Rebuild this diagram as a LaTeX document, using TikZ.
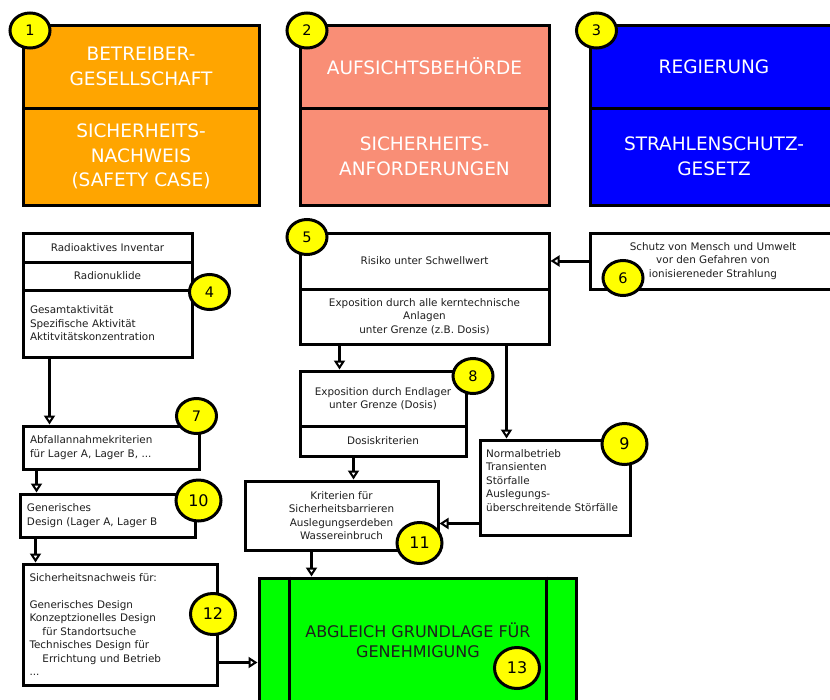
\documentclass[tikz,border=0pt]{standalone}
\usepackage{fontspec}
\setmainfont{DejaVu Sans}
\usetikzlibrary{arrows.meta,shapes.geometric,calc}
\definecolor{orng}{RGB}{255,165,0}
\definecolor{slmn}{RGB}{249,142,118}
\definecolor{blu}{RGB}{0,0,255}
\definecolor{grn}{RGB}{0,255,0}
\definecolor{ylw}{RGB}{255,255,0}
\definecolor{txtc}{RGB}{30,30,30}
\tikzset{
  wh/.style 2 args={minimum width=#1pt, minimum height=#2pt},
  box/.style={draw=black, line width=3pt, rectangle, inner sep=0pt, fill=white,
    text=txtc, font=\fontsize{10.4}{13.5}\selectfont, align=center},
  lbox/.style={box, align=left},
  bigbox/.style={box, text=white, font=\fontsize{18.5}{24.5}\selectfont},
  txt/.style={inner sep=0pt, text=txtc, font=\fontsize{10.4}{13.5}\selectfont, align=left},
  badge/.style={draw=black, ellipse, fill=ylw, line width=3pt, inner sep=0pt,
    minimum width=40pt, minimum height=35pt, text=black, font=\fontsize{14.5}{16}\selectfont},
  bigbadge/.style={badge, minimum width=45pt, minimum height=41pt, font=\fontsize{16}{18}\selectfont},
  conn/.style={line width=3pt, draw=black,
    -{Triangle[length=9pt, width=11pt, fill=white, line width=2pt]}},
}
\begin{document}
\begin{tikzpicture}[x=1pt,y=-1pt]
\useasboundingbox (0,0) rectangle (830,699);
\clip (0,0) rectangle (830,699);

% top row
\node[bigbox, fill=orng, wh={236}{83}] (b1a) at (141,66.5) {BETREIBER-\\GESELLSCHAFT};
\node[bigbox, fill=orng, wh={236}{97}] (b1b) at (141,156.5) {SICHERHEITS-\\NACHWEIS\\(SAFETY CASE)};
\node[bigbox, fill=slmn, wh={249}{83}] (b2a) at (424.5,66.5) {AUFSICHTSBEHÖRDE};
\node[bigbox, fill=slmn, wh={249}{97}] (b2b) at (424.5,156.5) {SICHERHEITS-\\ANFORDERUNGEN};
\node[bigbox, fill=blu, wh={248}{83}] (b3a) at (714,66.5) {REGIERUNG};
\node[bigbox, fill=blu, wh={248}{97}] (b3b) at (714,156.5) {STRAHLENSCHUTZ-\\GESETZ};

% box 4
\node[box, wh={169}{29}] (b4a) at (107.5,247.5) {Radioaktives Inventar};
\node[box, wh={169}{28}] (b4b) at (107.5,276) {Radionuklide};
\node[lbox, wh={169}{67}, text width=155pt] (b4c) at (107.5,323.5) {Gesamtaktivität\\Spezifische Aktivität\\Aktitvitätskonzentration};

% box 5
\node[box, wh={249}{56}] (b5a) at (424.5,261) {Risiko unter Schwellwert};
\node[box, wh={249}{55}] (b5b) at (424.5,316.5) {Exposition durch alle kerntechnische\\Anlagen\\unter Grenze (z.B. Dosis)};

% box 6
\node[box, wh={246}{56}] (b6) at (713,261) {Schutz von Mensch und Umwelt\\vor den Gefahren von\\ionisiereneder Strahlung};

% box 8
\node[box, wh={166}{55}] (b8a) at (383,398.5) {Exposition durch Endlager\\unter Grenze (Dosis)};
\node[box, wh={166}{30}] (b8b) at (383,441) {Dosiskriterien};

% box 9
\node[box, wh={150}{95}] (b9) at (555,487.5) {};
\node[txt, anchor=west] (t9) at (486,480.5) {Normalbetrieb\\Transienten\\Störfalle\\Auslegungs-\\überschreitende Störfälle};

% box 7
\node[lbox, wh={176}{43}, text width=162pt] (b7) at (111,447.5) {Abfallannahmekriterien\\für Lager A, Lager B, ...};

% box 10
\node[lbox, wh={175}{43}, text width=161pt] (b10) at (107.5,515.5) {Generisches\\Design (Lager A, Lager B};

% box 11
\node[box, wh={193}{69}] (b11) at (341.5,515.5) {Kriterien für\\Sicherheitsbarrieren\\Auslegungserdeben\\Wassereinbruch};

% box 12
\node[lbox, wh={194}{121}, text width=181pt] (b12) at (120,624.5) {Sicherheitsnachweis für:\\[13.5pt]Generisches Design\\Konzeptzionelles Design\\\hspace*{13pt}für Standortsuche\\Technisches Design für\\\hspace*{13pt}Errichtung und Betrieb\\...};

% box 13
\node[box, fill=grn, wh={317}{140}] (b13) at (417.5,648) {};
\draw[line width=3pt] (b13.north west) ++(32,0) coordinate (l13a) -- (l13a |- b13.south);
\draw[line width=3pt] (b13.north east) ++(-31,0) coordinate (l13b) -- (l13b |- b13.south);
\node[inner sep=0pt, text=txtc, align=center, font=\fontsize{16}{20}\selectfont] (t13) at (418,640) {ABGLEICH GRUNDLAGE FÜR\\GENEHMIGUNG};

% connectors
\draw[conn] (b6.west) -- (b5a.east);
\draw[conn] ([xshift=28pt]b4c.south west) coordinate (c47) -- (c47 |- b7.north);
\draw[conn] ([xshift=41pt]b5b.south west) coordinate (c58) -- (c58 |- b8a.north);
\draw[conn] ([xshift=208pt]b5b.south west) coordinate (c59) -- (c59 |- b9.north);
\draw[conn] ([xshift=15pt]b7.south west) coordinate (c710) -- (c710 |- b10.north);
\draw[conn] ([xshift=17pt]b10.south west) coordinate (c1012) -- (c1012 |- b12.north);
\draw[conn] ([xshift=55pt]b8b.south west) coordinate (c811) -- (c811 |- b11.north);
\draw[conn] ([yshift=13pt]b9.south west) coordinate (c911) -- (c911 -| b11.east);
\draw[conn] ([xshift=68pt]b11.south west) coordinate (c1113) -- (c1113 |- b13.north);
\draw[conn] ([yshift=24pt]b12.south east) coordinate (c1213) -- (c1213 -| b13.west);

% badges
\node[badge] (n1) at (30,30.5) {1};
\node[badge] (n2) at (307,30.5) {2};
\node[badge] (n3) at (596.5,30.5) {3};
\node[badge] (n4) at (209.5,292) {4};
\node[badge] (n5) at (307,237) {5};
\node[badge] (n6) at (623,278) {6};
\node[badge] (n7) at (196.5,416) {7};
\node[badge] (n8) at (473,376) {8};
\node[bigbadge] (n9) at (624.5,444) {9};
\node[bigbadge] (n10) at (198.5,500.5) {10};
\node[bigbadge] (n11) at (419.5,543) {11};
\node[bigbadge] (n12) at (213,614) {12};
\node[bigbadge] (n13) at (517,668) {13};
\end{tikzpicture}
\end{document}
